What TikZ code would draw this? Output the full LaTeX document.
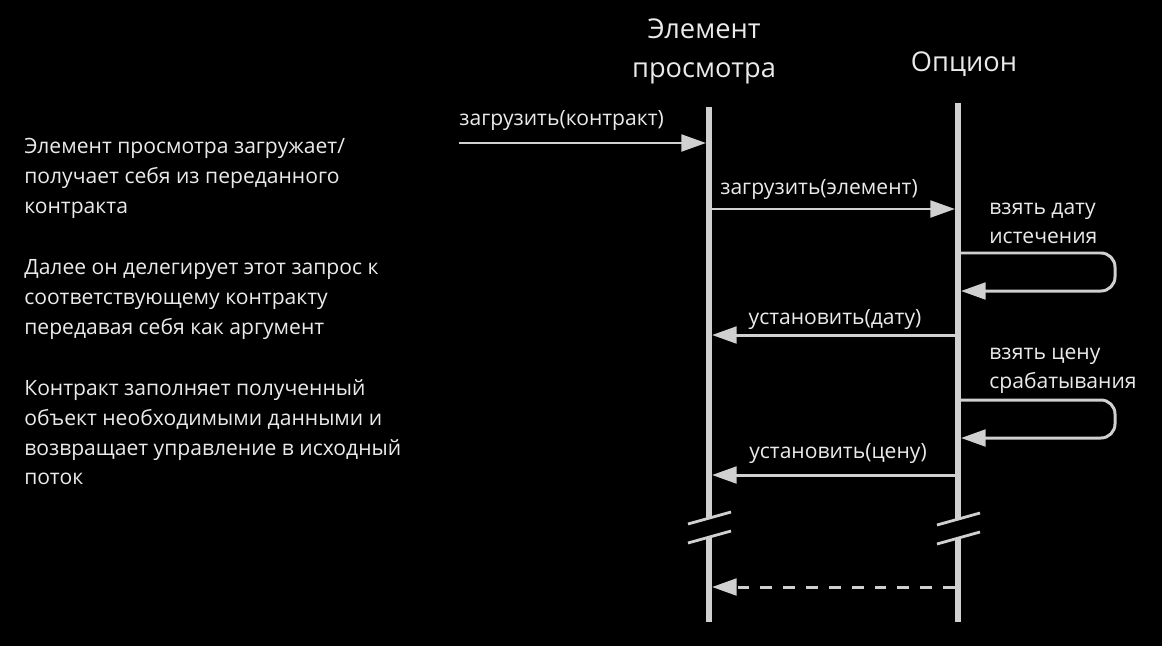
\documentclass[tikz,border=0pt]{standalone}
\usepackage{fontspec}
\setmainfont{Open Sans}
\usetikzlibrary{arrows.meta}

\definecolor{lifegray}{HTML}{D0D0D0}
\definecolor{labelgray}{HTML}{EAEAEA}

\tikzset{
    lifeline/.style={draw=lifegray, line width=3pt},
    msg/.style={draw=lifegray, line width=1.7pt, -{Triangle[length=14pt,width=9.5pt]}},
    reply/.style={msg, dash pattern=on 6.8pt off 6.2pt},
    breakmark/.style={draw=lifegray, line width=1.6pt},
    headlabel/.style={text=labelgray, align=center, inner sep=0pt, font=\fontsize{15.5}{22.2}\selectfont},
    msglabel/.style={text=labelgray, align=left, inner sep=0pt, font=\fontsize{12}{16.5}\selectfont},
    notetext/.style={text=labelgray, align=left, inner sep=0pt, anchor=north west, font=\fontsize{12}{17}\selectfont}
}

\begin{document}
\begin{tikzpicture}[x=0.02cm, y=-0.02cm]
    \fill[black] (0,0) rectangle (1162,646);
    \useasboundingbox (0,0) rectangle (1162,646);

    \node[headlabel] (viewHead) at (704,51) {Элемент\\просмотра};
    \node[headlabel] (optHead) at (964,64) {Опцион};

    \coordinate (viewTop) at (709,107);
    \coordinate (viewCut) at (709,518);
    \coordinate (viewRes) at (709,537);
    \coordinate (viewBot) at (709,622);
    \coordinate (optTop) at (958,103);
    \coordinate (optCut) at (958,519);
    \coordinate (optRes) at (958,538);
    \coordinate (optBot) at (958,622);

    \draw[lifeline] (viewTop) -- (viewCut);
    \draw[lifeline] (viewRes) -- (viewBot);
    \draw[lifeline] (optTop) -- (optCut);
    \draw[lifeline] (optRes) -- (optBot);

    \draw[breakmark] ([shift={(-21,6)}]viewCut) -- ([shift={(22,-6)}]viewCut);
    \draw[breakmark] ([shift={(-21,6)}]viewRes) -- ([shift={(22,-6)}]viewRes);
    \draw[breakmark] ([shift={(-21,6)}]optCut) -- ([shift={(22,-6)}]optCut);
    \draw[breakmark] ([shift={(-21,6)}]optRes) -- ([shift={(22,-6)}]optRes);

    \node[notetext] (noteLoad) at (24,138) {Элемент просмотра загружает/\\получает себя из переданного\\контракта};
    \node[notetext] (noteDelegate) at (24,259) {Далее он делегирует этот запрос к\\соответствующему контракту\\передавая себя как аргумент};
    \node[notetext] (noteFill) at (24,379) {Контракт заполняет полученный\\объект необходимыми данными и\\возвращает управление в исходный\\поток};

    \coordinate (callFrom) at (459,143);
    \coordinate (callTo) at (706,143);
    \draw[msg] (callFrom) -- (callTo);
    \node[msglabel, anchor=west] (callLabel) at (459,121) {загрузить(контракт)};

    \coordinate (loadFrom) at (712,209);
    \coordinate (loadTo) at (955,209);
    \draw[msg] (loadFrom) -- (loadTo);
    \node[msglabel] (loadLabel) at (819,190) {загрузить(элемент)};

    \coordinate (dateOut) at (961,253);
    \coordinate (dateBack) at (961,291);
    \draw[msg, rounded corners=8] (dateOut) -- ++(154,0) |- (dateBack);
    \node[msglabel, anchor=north west] (dateLabel) at (989,203) {взять дату\\истечения};

    \coordinate (setDateFrom) at (955,335);
    \coordinate (setDateTo) at (712,335);
    \draw[msg] (setDateFrom) -- (setDateTo);
    \node[msglabel] (setDateLabel) at (835,319) {установить(дату)};

    \coordinate (priceOut) at (961,400);
    \coordinate (priceBack) at (961,438);
    \draw[msg, rounded corners=8] (priceOut) -- ++(154,0) |- (priceBack);
    \node[msglabel, anchor=north west] (priceLabel) at (989,348) {взять цену\\срабатывания};

    \coordinate (setPriceFrom) at (955,475);
    \coordinate (setPriceTo) at (712,475);
    \draw[msg] (setPriceFrom) -- (setPriceTo);
    \node[msglabel] (setPriceLabel) at (838,453) {установить(цену)};

    \coordinate (returnFrom) at (955,587);
    \coordinate (returnTo) at (712,587);
    \draw[reply] (returnFrom) -- (returnTo);
\end{tikzpicture}
\end{document}
